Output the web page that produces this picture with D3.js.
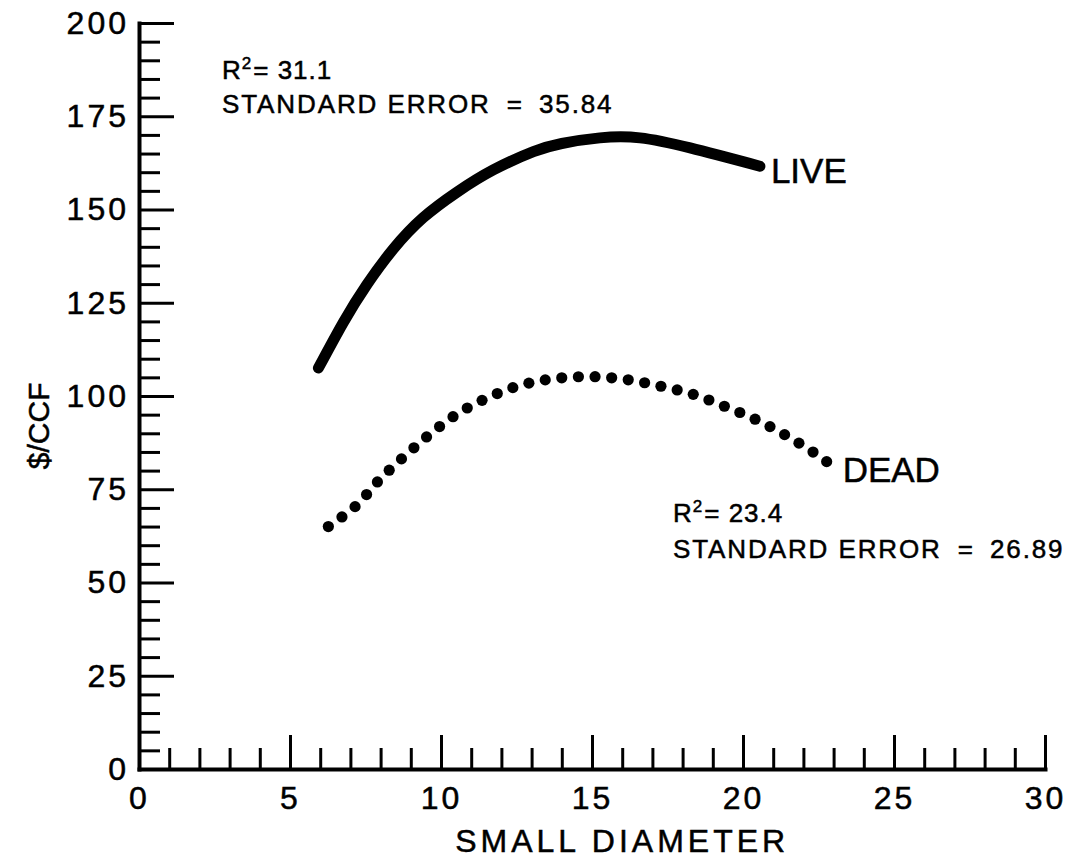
<!DOCTYPE html>
<html>
<head>
<meta charset="utf-8">
<script src="https://cdn.jsdelivr.net/npm/d3@7/dist/d3.min.js"></script>
<style>
  html, body { margin: 0; padding: 0; background: #fff; }
  svg { display: block; }
  text { font-family: "Liberation Sans", Arial, Helvetica, sans-serif; fill: #000; stroke: #000; stroke-width: 0.5px; }
</style>
</head>
<body>
<svg id="chart" width="1086" height="860"></svg>
<script>
// ---- data ----
const liveX = [5.94, 6.77, 7.54, 8.42, 9.41, 10.52, 11.73, 13.06, 14.0, 15.26, 16.59, 18.25, 20.56];
const liveY = [107.5, 119.8, 129.8, 139.4, 147.8, 154.6, 160.6, 165.5, 167.7, 169.2, 169.2, 166.5, 161.6];

const deadX = [6.27, 7.19, 7.98, 8.81, 9.67, 10.52, 11.51, 12.56, 13.69, 14.91, 16.06, 17.18, 18.33, 19.40, 20.45, 21.45, 22.35, 22.77];
const deadY = [65.0, 70.6, 77.7, 84.0, 90.0, 95.1, 99.4, 102.7, 104.6, 105.2, 104.5, 102.8, 100.5, 97.2, 93.6, 89.3, 84.8, 82.4];

const xMajorTicks = [0, 5, 10, 15, 20, 25, 30];
const yMajorTicks = [0, 25, 50, 75, 100, 125, 150, 175, 200];
const xMinorStep = 1;
const yMinorStep = 5;

const xTitle = "SMALL DIAMETER";
const yTitle = "$/CCF";
const seriesLabels = ["LIVE", "DEAD"];
const liveStats = { r2: "31.1", se: "35.84" };
const deadStats = { r2: "23.4", se: "26.89" };

// ---- layout ----
const svg = d3.select("#chart");
const x = d3.scaleLinear().domain([0, 30]).range([139, 1045]);
const y = d3.scaleLinear().domain([0, 200]).range([769, 23]);

const xMinor = d3.range(0, 30 + 1e-9, xMinorStep).filter(v => v % 5 !== 0);
const yMinor = d3.range(0, 200 + 1e-9, yMinorStep).filter(v => v % 25 !== 0);

// minor ticks
svg.append("g")
  .attr("transform", `translate(0,${y(0)})`)
  .call(d3.axisBottom(x).tickValues(xMinor).tickSizeInner(-21).tickSizeOuter(0).tickFormat(""))
  .call(g => g.select(".domain").remove())
  .call(g => g.selectAll("line").attr("stroke", "#000").attr("stroke-width", 3));

svg.append("g")
  .attr("transform", `translate(${x(0)},0)`)
  .call(d3.axisLeft(y).tickValues(yMinor).tickSizeInner(-21).tickSizeOuter(0).tickFormat(""))
  .call(g => g.select(".domain").remove())
  .call(g => g.selectAll("line").attr("stroke", "#000").attr("stroke-width", 3));

// major axes
const xAxis = svg.append("g")
  .attr("transform", `translate(0,${y(0)})`)
  .call(d3.axisBottom(x).tickValues(xMajorTicks).tickSizeInner(-34).tickSizeOuter(0).tickPadding(17).tickFormat(d3.format("d")));
const yAxis = svg.append("g")
  .attr("transform", `translate(${x(0)},0)`)
  .call(d3.axisLeft(y).tickValues(yMajorTicks).tickSizeInner(-35).tickSizeOuter(0).tickPadding(10).tickFormat(d3.format("d")));

[xAxis, yAxis].forEach(g => {
  g.select(".domain").attr("stroke", "#000").attr("stroke-width", 4).attr("stroke-linecap", "square");
  g.selectAll(".tick line").attr("stroke", "#000").attr("stroke-width", 3);
  g.selectAll(".tick text")
    .attr("font-family", '"Liberation Sans", Arial, sans-serif')
    .attr("font-size", 32)
    .attr("letter-spacing", 3)
    .attr("fill", "#000");
});

// axis titles
svg.append("text")
  .attr("x", x(16)).attr("y", 852)
  .attr("text-anchor", "middle")
  .attr("font-size", 32)
  .attr("letter-spacing", 4)
  .text(xTitle);

svg.append("text")
  .attr("transform", `translate(49,${y(92)}) rotate(-90)`)
  .attr("text-anchor", "middle")
  .attr("font-size", 30)
  .text(yTitle);

// curves
const livePts = liveX.map((v, i) => [v, liveY[i]]);
const deadPts = deadX.map((v, i) => [v, deadY[i]]);

svg.append("path")
  .attr("d", d3.line().x(d => x(d[0])).y(d => y(d[1])).curve(d3.curveNatural)(livePts))
  .attr("fill", "none")
  .attr("stroke", "#000")
  .attr("stroke-width", 11)
  .attr("stroke-linecap", "round");

// dotted DEAD curve: dots evenly spaced along the fitted path
const deadPath = svg.append("path")
  .attr("d", d3.line().x(d => x(d[0])).y(d => y(d[1])).curve(d3.curveCatmullRom.alpha(0.5))(deadPts))
  .attr("fill", "none")
  .attr("stroke", "none");
const pn = deadPath.node();
const L = pn.getTotalLength();
const n = Math.round(L / 16.6);
const dots = d3.range(n + 1).map(i => pn.getPointAtLength(Math.min(L, i * L / n)));
svg.append("g").selectAll("circle")
  .data(dots)
  .join("circle")
  .attr("cx", d => d.x)
  .attr("cy", d => d.y)
  .attr("r", 5.6)
  .attr("fill", "#000");

// series labels
const liveEnd = livePts[livePts.length - 1];
const deadEnd = deadPts[deadPts.length - 1];
svg.append("text")
  .attr("x", x(liveEnd[0]) + 11).attr("y", y(liveEnd[1]) + 17)
  .attr("font-size", 35)
  .text(seriesLabels[0]);
svg.append("text")
  .attr("x", x(deadEnd[0]) + 16).attr("y", y(deadEnd[1]) + 20)
  .attr("font-size", 35)
  .text(seriesLabels[1]);

// statistics annotations
function stats(x0, y0, lineGap, s) {
  const t1 = svg.append("text").attr("x", x0).attr("y", y0).attr("font-size", 26).attr("letter-spacing", 1);
  t1.append("tspan").text("R");
  t1.append("tspan").attr("font-size", 17).attr("dy", -10).text("2");
  t1.append("tspan").attr("dy", 10).attr("dx", 1).text("= " + s.r2);
  const t2 = svg.append("text").attr("x", x0).attr("y", y0 + lineGap).attr("font-size", 26).attr("letter-spacing", 1.9);
  t2.append("tspan").text("STANDARD ERROR");
  t2.append("tspan").attr("dx", 16).text("=");
  t2.append("tspan").attr("dx", 15).text(s.se);
}
stats(222, 79, 34, liveStats);
stats(673, 522, 36, deadStats);
</script>
</body>
</html>
